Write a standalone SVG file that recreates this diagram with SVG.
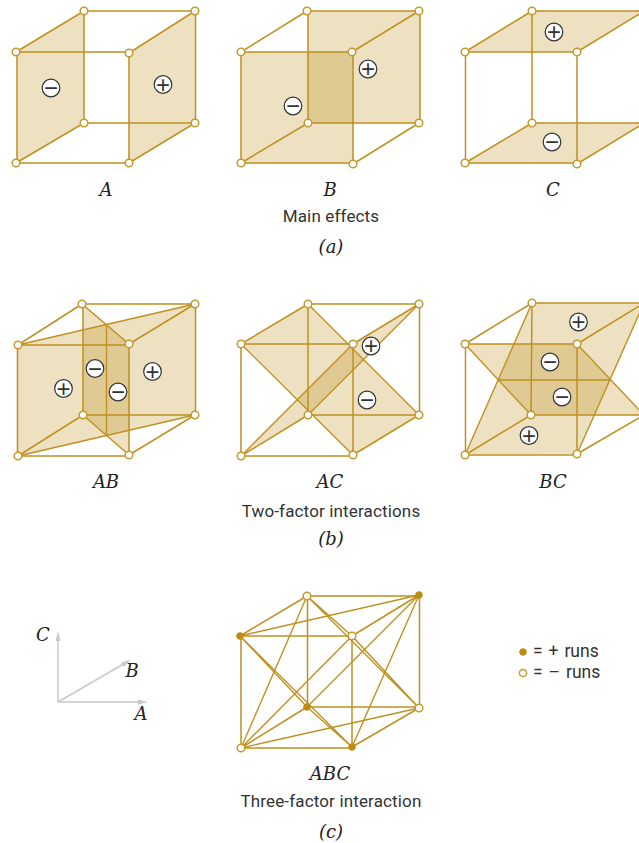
<svg xmlns="http://www.w3.org/2000/svg" width="639" height="843" viewBox="0 0 639 843">
<style>
.f{fill:#b8860b;fill-opacity:.25;stroke:none}
.e{fill:none;stroke:#bf9120;stroke-width:1.5}
.t{fill:none;stroke:#bf9120;stroke-width:1.4}
.v{fill:#fff;stroke:#c49a2e;stroke-width:1.5}
.p{fill:#bd8c10;stroke:#bd8c10;stroke-width:1}
.s{fill:#fff;stroke:#333;stroke-width:1.2}
.g{font-family:"Liberation Sans",Arial,sans-serif;font-size:24px;fill:#333;text-anchor:middle}
.m{font-family:"DejaVu Serif",serif;font-style:italic;font-size:18px;fill:#222;text-anchor:middle}
.c{font-family:Roboto,"Open Sans",sans-serif;font-size:17px;letter-spacing:.15px;fill:#333;text-anchor:middle}
.l{font-family:Roboto,"Open Sans",sans-serif;font-size:17.500px;word-spacing:1.600px;fill:#333;text-anchor:start}
.a{fill:none;stroke:#c9c9c9;stroke-width:1.5}
.h{fill:#c9c9c9}
</style>
<g id="faces">
<polygon class="f" points="17,52 84,11 84,123 17,163"/><polygon class="f" points="129,53 195.500,11 195.500,123 129,163"/>
<polygon class="f" points="241,52 353,52 353,164 241,163"/><polygon class="f" points="308,11 420,11 420,123 308,123"/>
<polygon class="f" points="465.500,52 532,11 644,11 577,52"/><polygon class="f" points="465.500,163 532,123 644,123 577,164"/>
<polygon class="f" points="18,345 195.500,304 195.500,415 18,456"/><polygon class="f" points="83,304 129,344 129,455 83,415"/>
<polygon class="f" points="241,344 308,304 419,415 353,455"/><polygon class="f" points="241,456 308,415 419,304 353,344"/>
<polygon class="f" points="465,455 532,303 644,303 577,454"/><polygon class="f" points="465,344 577,344 644,415 531,415"/>
</g>
<g id="connectors">
<path id="edges-A" class="e" d="M17,52H129M17,163H129M84,11H195.500M84,123H195.500M17,52V163M129,53V163M84,11V123M195.500,11V123M16,52L84,11M129,53L195,11M16,163L84,123M129,163L195,123"/>
<path id="edges-B" class="e" d="M241,52H353M241,163H353M308,11H420M308,123H420M241,52V163M353,52V164M308,11V123M420,11V123M241,52L307,11M352,52L419,11M241,163L308,123M353,164L419,123"/>
<path id="edges-C" class="e" d="M465.500,52H577M465.500,163H577M532,11H644M532,123H644M465.500,52V163M577,52V164M532,11V123M465,52L532,11M577,52L644,11M465,163L532,123M577,164L644,123"/>
<path id="edges-AB" class="e" d="M18,345H129M18,456H129M83,304H195.500M83,415H195.500M17.500,345V456M129,344V455M83,304V415M195.500,304V415M18,345L82,304M129,344L195,304M18,456L83,415M129,455L195,415"/>
<path id="diag-AB" class="t" d="M18,345L195,304M18,456L195,415M82,304L129,344M83,415L129,455M106.500,324V435"/>
<path id="edges-AC" class="e" d="M241,344H353M241,456H353M308,304H419.500M308,415H419.500M241,344V456M353,344V455M308,304V415M419.500,304V415M241,344L308,304M353,344L419,304M241,456L308,415M353,455L419,415"/>
<path id="diag-AC" class="t" d="M241,344L353,455M308,304L419,415M241,456L353,344M308,415L419,304"/>
<path id="edges-BC" class="e" d="M465,344H577M465,455H577M532,303H644M531,415H644M465.500,344V455M577,344V454M532,303L531,415M465,344L532,303M577,344L644,303M465,455L531,415M577,454L644,415"/>
<path id="diag-BC" class="t" d="M465,455L532,303M577,454L644,303M465,344L531,415M577,344L644,415M499,380H610"/>
<path id="edges-ABC" class="e" d="M240,636H352M241,748H352M307,596H419M307,707H419M241,636V748M352,636V747M307.500,596V707M419.500,595V708M240,636L307,596M352,636L419,595M241,748L307,707M352,747L419,708"/>
<path id="diag-ABC" class="t" d="M240,636L352,747M240,636L419,595M240,636L307,707M352,747L419,595M352,747L307,707M419,595L307,707M307,596L352,636M307,596L419,708M307,596L241,748M352,636L419,708M352,636L241,748M419,708L241,748"/>
<path id="axis-lines" class="a" d="M58,702V636M58,702L127,662M58,702H143"/>
<polygon class="h" points="58,631 55.500,641 60.500,641"/>
<polygon class="h" points="131,659.500 121,662.500 123.500,667"/>
<polygon class="h" points="148,702 138,699.500 138,704.500"/>
</g>
<g id="cube-A">
<circle class="v" cx="16" cy="52" r="3.800"/><circle class="v" cx="129" cy="53" r="3.800"/><circle class="v" cx="16" cy="163" r="3.800"/><circle class="v" cx="129" cy="163" r="3.800"/><circle class="v" cx="84" cy="11" r="3.800"/><circle class="v" cx="195" cy="11" r="3.800"/><circle class="v" cx="84" cy="123" r="3.800"/><circle class="v" cx="195" cy="123" r="3.800"/>
<circle class="s" cx="51" cy="88" r="8.800"/><text class="g" x="51" y="96">−</text>
<circle class="s" cx="163" cy="84.500" r="8.800"/><text class="g" x="163" y="92.500">+</text>
<text class="m" x="106" y="196">A</text>
</g>
<g id="cube-B">
<circle class="v" cx="241" cy="52" r="3.800"/><circle class="v" cx="352" cy="52" r="3.800"/><circle class="v" cx="241" cy="163" r="3.800"/><circle class="v" cx="353" cy="164" r="3.800"/><circle class="v" cx="307" cy="11" r="3.800"/><circle class="v" cx="419" cy="11" r="3.800"/><circle class="v" cx="308" cy="123" r="3.800"/><circle class="v" cx="419" cy="123" r="3.800"/>
<circle class="s" cx="293" cy="106" r="8.800"/><text class="g" x="293" y="114">−</text>
<circle class="s" cx="368" cy="69" r="8.800"/><text class="g" x="368" y="77">+</text>
<text class="m" x="330" y="196">B</text>
</g>
<g id="cube-C">
<circle class="v" cx="465" cy="52" r="3.800"/><circle class="v" cx="577" cy="52" r="3.800"/><circle class="v" cx="465" cy="163" r="3.800"/><circle class="v" cx="577" cy="164" r="3.800"/><circle class="v" cx="532" cy="11" r="3.800"/><circle class="v" cx="532" cy="123" r="3.800"/>
<circle class="s" cx="554" cy="32" r="8.800"/><text class="g" x="554" y="40">+</text>
<circle class="s" cx="552" cy="142" r="8.800"/><text class="g" x="552" y="150">−</text>
<text class="m" x="553" y="196">C</text>
</g>
<g id="cube-AB">
<circle class="v" cx="18" cy="345" r="3.800"/><circle class="v" cx="129" cy="344" r="3.800"/><circle class="v" cx="18" cy="456" r="3.800"/><circle class="v" cx="129" cy="455" r="3.800"/><circle class="v" cx="82" cy="304" r="3.800"/><circle class="v" cx="195" cy="304" r="3.800"/><circle class="v" cx="83" cy="415" r="3.800"/><circle class="v" cx="195" cy="415" r="3.800"/>
<circle class="s" cx="63.500" cy="388.500" r="8.800"/><text class="g" x="63.500" y="396.500">+</text>
<circle class="s" cx="95" cy="368.500" r="8.800"/><text class="g" x="95" y="376.500">−</text>
<circle class="s" cx="118" cy="392" r="8.800"/><text class="g" x="118" y="400">−</text>
<circle class="s" cx="152.500" cy="371.500" r="8.800"/><text class="g" x="152.500" y="379.500">+</text>
<text class="m" x="106" y="488">AB</text>
</g>
<g id="cube-AC">
<circle class="v" cx="241" cy="344" r="3.800"/><circle class="v" cx="353" cy="344" r="3.800"/><circle class="v" cx="241" cy="456" r="3.800"/><circle class="v" cx="353" cy="455" r="3.800"/><circle class="v" cx="308" cy="304" r="3.800"/><circle class="v" cx="419" cy="304" r="3.800"/><circle class="v" cx="308" cy="415" r="3.800"/><circle class="v" cx="419" cy="415" r="3.800"/>
<circle class="s" cx="371" cy="346" r="8.800"/><text class="g" x="371" y="354">+</text>
<circle class="s" cx="367" cy="400" r="8.800"/><text class="g" x="367" y="408">−</text>
<text class="m" x="330" y="488">AC</text>
</g>
<g id="cube-BC">
<circle class="v" cx="465" cy="344" r="3.800"/><circle class="v" cx="577" cy="344" r="3.800"/><circle class="v" cx="465" cy="455" r="3.800"/><circle class="v" cx="577" cy="454" r="3.800"/><circle class="v" cx="532" cy="303" r="3.800"/><circle class="v" cx="531" cy="415" r="3.800"/>
<circle class="s" cx="578.500" cy="322" r="8.800"/><text class="g" x="578.500" y="330">+</text>
<circle class="s" cx="550" cy="362" r="8.800"/><text class="g" x="550" y="370">−</text>
<circle class="s" cx="562" cy="397" r="8.800"/><text class="g" x="562" y="405">−</text>
<circle class="s" cx="529" cy="435.500" r="8.800"/><text class="g" x="529" y="443.500">+</text>
<text class="m" x="553" y="488">BC</text>
</g>
<g id="cube-ABC">
<circle class="p" cx="240" cy="636" r="3.300"/><circle class="v" cx="352" cy="636" r="3.800"/><circle class="v" cx="241" cy="748" r="3.800"/><circle class="p" cx="352" cy="747" r="3.300"/><circle class="v" cx="307" cy="596" r="3.800"/><circle class="p" cx="419" cy="595" r="3.300"/><circle class="p" cx="307" cy="707" r="3.300"/><circle class="v" cx="419" cy="708" r="3.800"/>
<text class="m" x="330" y="780">ABC</text>
</g>
<g id="axes">
<text class="m" x="43" y="641">C</text><text class="m" x="132" y="677">B</text><text class="m" x="141" y="720">A</text>
</g>
<g id="legend">
<circle class="p" cx="523" cy="652" r="3.300"/><circle class="v" cx="523" cy="673" r="3.600"/>
<text class="l" x="533" y="657">= + runs</text>
<text class="l" x="533" y="678">= – runs</text>
</g>
<g id="captions">
<text class="c" x="331" y="222">Main effects</text><text class="m" x="331" y="253">(a)</text>
<text class="c" x="331" y="517">Two-factor interactions</text><text class="m" x="331" y="545">(b)</text>
<text class="c" x="331" y="807">Three-factor interaction</text><text class="m" x="331" y="838">(c)</text>
</g>
</svg>
